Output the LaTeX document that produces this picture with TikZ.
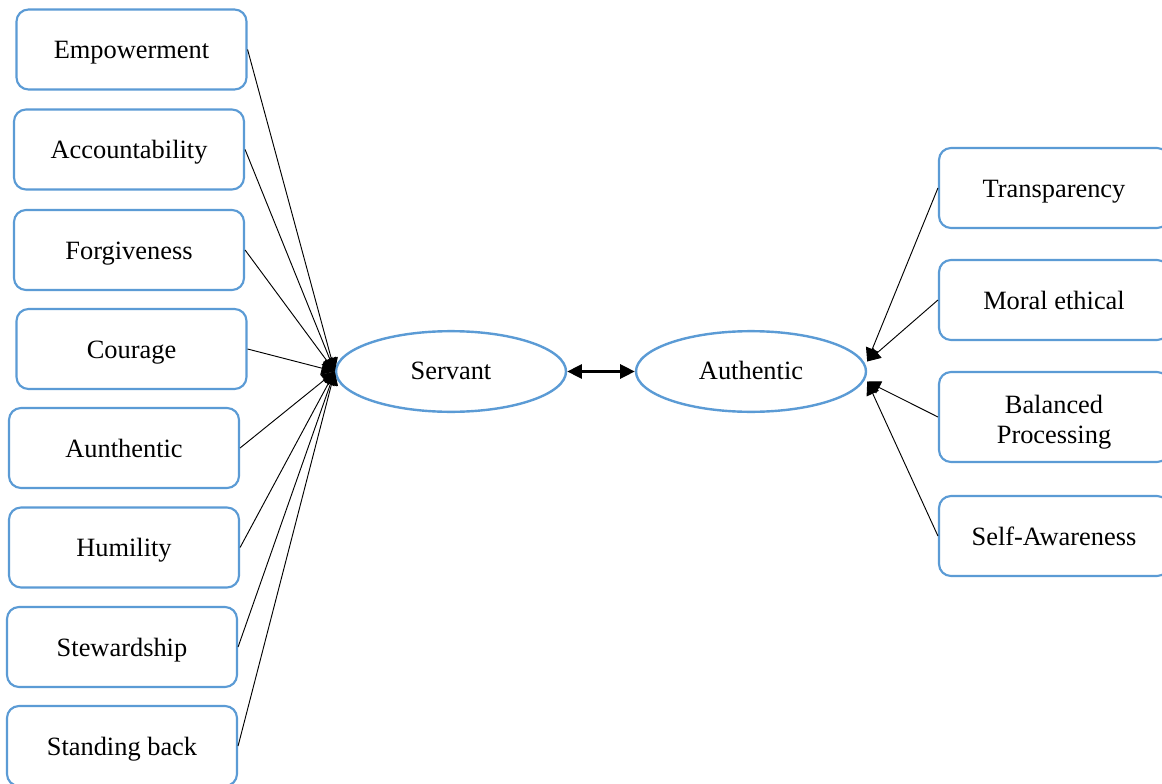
\documentclass[tikz,border=0pt]{standalone}
\usepackage{fontspec}
\setmainfont{Liberation Serif}
\usetikzlibrary{arrows.meta,shapes.geometric}
\begin{document}
\begin{tikzpicture}[x=0.75pt,y=-0.75pt,
  trait/.style={draw=traitblue,line width=1.6pt,rounded corners=9pt,fill=white,
    minimum width=172.5pt,minimum height=60pt,inner sep=0pt,align=center,
    text height=16pt,text depth=1.8pt,
    font=\fontsize{19.8}{22.5}\selectfont},
  style oval/.style={draw=traitblue,line width=1.8pt,ellipse,fill=white,
    minimum width=172.5pt,minimum height=60.5pt,inner sep=0pt,
    text height=14pt,text depth=1.5pt,
    font=\fontsize{19.8}{22.5}\selectfont},
  link/.style={line width=0.7pt,-{Triangle[length=10pt,width=10pt]}},
  both/.style={line width=2.2pt,{Triangle[length=11pt,width=10.5pt]}-{Triangle[length=11pt,width=10.5pt]}}]
\definecolor{traitblue}{HTML}{5B9BD5}
\clip (0,0) rectangle (1162,784);
\fill[white] (0,0) rectangle (1162,784);

% servant leadership traits
\node[trait] (emp) at (131.5,49.5) {Empowerment};
\node[trait] (acc) at (129,149.5) {Accountability};
\node[trait] (for) at (129,250) {Forgiveness};
\node[trait] (cou) at (131.5,349) {Courage};
\node[trait] (aun) at (124,448) {Aunthentic};
\node[trait] (hum) at (124,547.5) {Humility};
\node[trait] (ste) at (122,647) {Stewardship};
\node[trait] (sta) at (122,746) {Standing back};

% authentic leadership traits
\node[trait] (tra) at (1054,188) {Transparency};
\node[trait] (mor) at (1054,300) {Moral ethical};
\node[trait,minimum height=67.5pt,text height=41.5pt] (bal) at (1054,417) {Balanced\\Processing};
\node[trait] (sel) at (1054,536) {Self-Awareness};

% the two leadership styles
\node[style oval] (srv) at (451,371.5) {Servant};
\node[style oval] (ath) at (751,371.5) {Authentic};

\foreach \t in {emp,acc,for,cou,aun,hum,ste,sta}
  \draw[link] (\t.east) -- (srv.west);

\draw[link] (tra.west) -- ([yshift=7.5pt]ath.east);
\draw[link] (mor.west) -- ([yshift=7.5pt]ath.east);
\draw[link] (bal.west) -- ([yshift=-7.5pt]ath.east);
\draw[link] (sel.west) -- ([yshift=-7.5pt]ath.east);

\draw[both] (srv.east) -- (ath.west);
\end{tikzpicture}
\end{document}
